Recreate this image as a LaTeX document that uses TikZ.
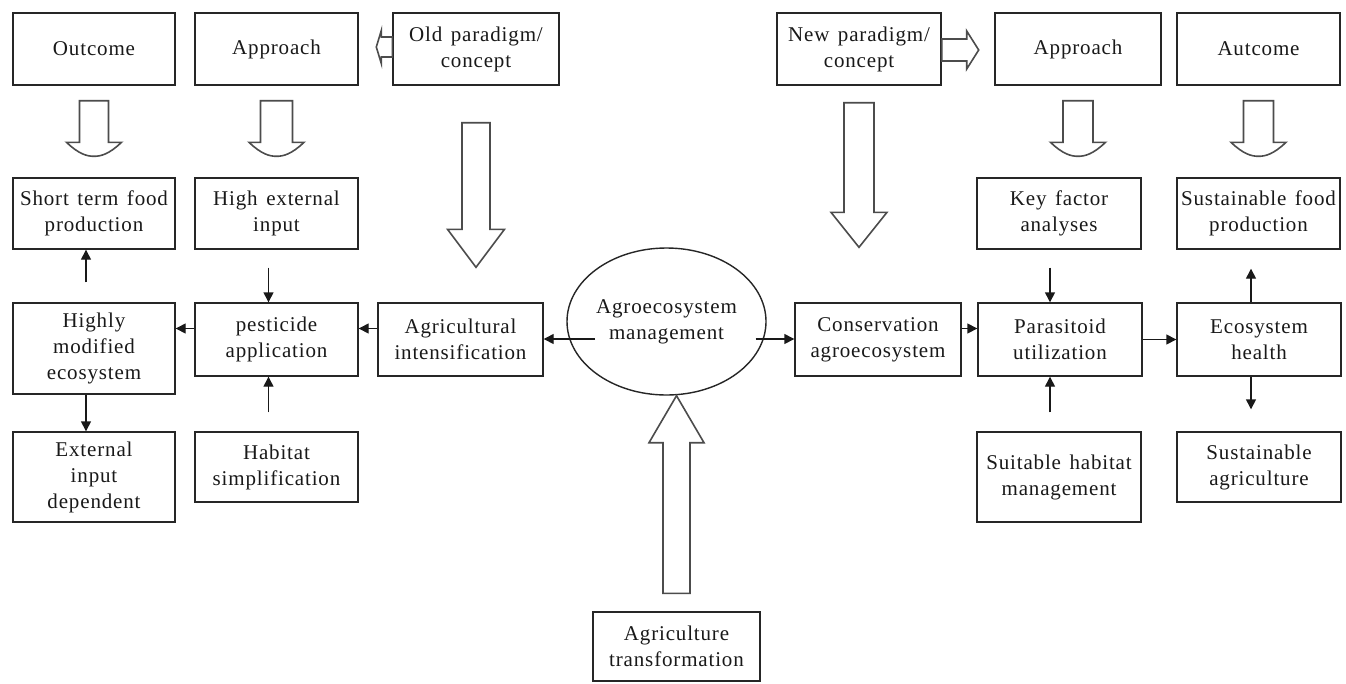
\documentclass[tikz,border=0pt]{standalone}
\usepackage{fontspec}
\setmainfont{Liberation Serif}[LetterSpace=4,WordSpace=1.4]
\usetikzlibrary{calc,arrows.meta,shapes.geometric}

% vertical hollow block arrow, straight head: A (tail), B (tip), half shaft, half head, signed head length (canvas)
\newcommand\vblock[5]{%
  \draw[hollow] let \p1=(#1), \p2=(#2) in
    ({\x2-#3},\y1) -- ({\x2+#3},\y1) -- ({\x2+#3},{\y2+(#5)}) -- ({\x2+#4},{\y2+(#5)})
    -- (\x2,\y2) -- ({\x2-#4},{\y2+(#5)}) -- ({\x2-#3},{\y2+(#5)}) -- cycle;}
% vertical hollow block arrow, bowl-shaped head
\newcommand\vbowl[5]{%
  \draw[hollow] let \p1=(#1), \p2=(#2) in
    ({\x2-#3},\y1) -- ({\x2+#3},\y1) -- ({\x2+#3},{\y2+(#5)}) -- ({\x2+#4},{\y2+(#5)})
    .. controls ({\x2+0.55*#4},{\y2+0.15*(#5)}) and ({\x2+0.25*#4},\y2) .. (\x2,\y2)
    .. controls ({\x2-0.25*#4},\y2) and ({\x2-0.55*#4},{\y2+0.15*(#5)}) .. ({\x2-#4},{\y2+(#5)})
    -- ({\x2-#3},{\y2+(#5)}) -- cycle;}
% horizontal hollow block arrow
\newcommand\hblock[5]{%
  \draw[hollow] let \p1=(#1), \p2=(#2) in
    (\x1,{\y2+#3}) -- (\x1,{\y2-#3}) -- ({\x2-(#5)},{\y2-#3}) -- ({\x2-(#5)},{\y2-#4})
    -- (\x2,\y2) -- ({\x2-(#5)},{\y2+#4}) -- ({\x2-(#5)},{\y2+#3}) -- cycle;}

\tikzset{
  box/.style={draw=black!85, line width=1.4pt, inner sep=0pt, align=center,
    font=\fontsize{21}{26}\selectfont, text=black!90},
  arr/.style={draw=black!90, line width=1.4pt, -{Triangle[length=10pt,width=10pt]}},
  hollow/.style={draw=black!70, line width=1.6pt, line join=miter, fill=white},
}

\begin{document}
\begin{tikzpicture}[x=1pt,y=-1pt]
\useasboundingbox[fill=white] (0,0) rectangle (1346,683);

% top row
\node[box, minimum width=162pt, minimum height=72pt] (outcome) at (94,49) {Outcome};
\node[box, minimum width=163pt, minimum height=72pt] (approachL) at (276.5,49) {Approach};
\node[box, minimum width=166pt, minimum height=72pt] (old) at (476,49) {Old paradigm/\\concept};
\node[box, minimum width=164pt, minimum height=72pt] (new) at (859,49) {New paradigm/\\concept};
\node[box, minimum width=166pt, minimum height=72pt] (approachR) at (1078,49) {Approach};
\node[box, minimum width=163pt, minimum height=72pt] (autcome) at (1258.5,49) {Autcome};

% second row
\node[box, minimum width=162pt, minimum height=71pt] (short) at (94,213.5) {Short term food\\production};
\node[box, minimum width=163pt, minimum height=71pt] (high) at (276.5,213.5) {High external\\input};
\node[box, minimum width=164pt, minimum height=71pt] (key) at (1059,213.5) {Key factor\\analyses};
\node[box, minimum width=163pt, minimum height=71pt] (sfood) at (1258.5,213.5) {Sustainable food\\production};

% third row
\node[box, minimum width=162pt, minimum height=91pt] (highly) at (94,348.5) {Highly\\modified\\ecosystem};
\node[box, minimum width=163pt, minimum height=73pt] (pest) at (276.5,339.5) {pesticide\\application};
\node[box, minimum width=165pt, minimum height=73pt] (agri) at (460.5,339.5) {Agricultural\\intensification};
\node[box, ellipse, minimum width=183pt, minimum height=147pt] (agm) at (666.5,321.5) {Agroecosystem\\management};
\node[box, minimum width=166pt, minimum height=73pt] (cons) at (878,339.5) {Conservation\\agroecosystem};
\node[box, minimum width=164pt, minimum height=73pt] (para) at (1060,339.5) {Parasitoid\\utilization};
\node[box, minimum width=164pt, minimum height=73pt] (eco) at (1259,339.5) {Ecosystem\\health};

% fourth row
\node[box, minimum width=162pt, minimum height=90pt] (ext) at (94,477) {External\\input\\dependent};
\node[box, minimum width=163pt, minimum height=70pt] (habsimp) at (276.5,467) {Habitat\\simplification};
\node[box, minimum width=164pt, minimum height=90pt] (suit) at (1059,477) {Suitable habitat\\management};
\node[box, minimum width=164pt, minimum height=70pt] (sagri) at (1259,467) {Sustainable\\agriculture};

% bottom
\node[box, minimum width=167pt, minimum height=69pt] (trans) at (676.5,646.5) {Agriculture\\transformation};

% hollow block arrows
\vbowl{$(outcome.south)+(0,15)$}{$(outcome.south |- short.north)+(0,-21)$}{14.5pt}{27.5pt}{14pt}
\vbowl{$(approachL.south)+(0,15)$}{$(approachL.south |- high.north)+(0,-21)$}{16pt}{27.5pt}{14pt}
\vbowl{$(approachR.south)+(0,15)$}{$(approachR.south |- key.north)+(0,-21)$}{15pt}{27.5pt}{14pt}
\vbowl{$(autcome.south)+(0,15)$}{$(autcome.south |- sfood.north)+(0,-21)$}{15pt}{27.5pt}{14pt}
\vblock{$(old.south)+(0,37)$}{$(old.south |- agri.north)+(0,-35)$}{14pt}{28.5pt}{38pt}
\vblock{$(new.south)+(0,17)$}{$(new.south |- cons.north)+(0,-55)$}{15pt}{28pt}{35pt}
\vblock{$(trans.north)+(0,-18)$}{trans.north |- agm.south}{13.5pt}{27.5pt}{-47pt}
\hblock{old.west}{$(old.west)+(-16,-2)$}{10pt}{16.5pt}{-5pt}
\hblock{new.east}{$(new.east)+(37,1)$}{11pt}{19pt}{12pt}

% thin arrows, left part
\draw[arr] ($(highly.north)+(-8,-20)$) -- ($(short.south)+(-8,0)$);
\draw[arr] ($(high.south)+(-8,18)$) -- ($(pest.north)+(-8,0)$);
\draw[arr] ($(habsimp.north)+(-8,-19)$) -- ($(pest.south)+(-8,0)$);
\draw[arr] ($(highly.south)+(-8,0)$) -- ($(ext.north)+(-8,0)$);
\coordinate (pw) at ($(pest.west)+(0,-11)$);
\draw[arr] (pw) -- (pw -| highly.east);
\coordinate (aw) at ($(agri.west)+(0,-11)$);
\draw[arr] (aw) -- (aw -| pest.east);
\coordinate (ml) at ($(agm.center)+(-71.5,17.5)$);
\draw[arr] (ml) -- (ml -| agri.east);
\coordinate (mr) at ($(agm.center)+(89,17.5)$);
\draw[arr] (mr) -- (mr -| cons.west);

% thin arrows, right part
\coordinate (ce) at ($(cons.east)+(0,-11)$);
\draw[arr] (ce) -- (ce -| para.west);
\draw[arr] (para.east) -- (para.east -| eco.west);
\coordinate (ks) at ($(key.south)+(-9,18)$);
\draw[arr] (ks) -- (ks |- para.north);
\coordinate (sn) at ($(suit.north)+(-9,-19)$);
\draw[arr] (sn) -- (sn |- para.south);
\coordinate (en) at ($(eco.north)+(-8,0)$);
\draw[arr] (en) -- ($(en |- sfood.south)+(0,19)$);
\coordinate (es) at ($(eco.south)+(-8,0)$);
\draw[arr] (es) -- ($(es |- sagri.north)+(0,-22)$);
\end{tikzpicture}
\end{document}
